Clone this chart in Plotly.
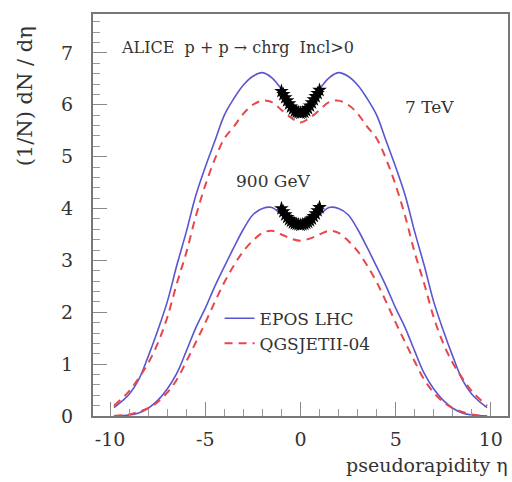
import plotly.graph_objects as go

# pseudorapidity grid for model curves
eta = [-9.8, -9.0, -8.5, -8.0, -7.5, -7.0, -6.5, -6.0, -5.5, -5.0, -4.5, -4.0, -3.5, -3.0, -2.5, -2.0, -1.5, -1.0, -0.5, 0.0,
       0.5, 1.0, 1.5, 2.0, 2.5, 3.0, 3.5, 4.0, 4.5, 5.0, 5.5, 6.0, 6.5, 7.0, 7.5, 8.0, 8.5, 9.0, 9.8]

epos_7tev = [0.16, 0.42, 0.70, 1.15, 1.65, 2.20, 2.90, 3.55, 4.25, 4.80, 5.30, 5.80, 6.12, 6.38, 6.55, 6.62, 6.52, 6.30, 6.02, 5.88,
             6.02, 6.30, 6.52, 6.62, 6.55, 6.38, 6.12, 5.80, 5.30, 4.80, 4.25, 3.55, 2.90, 2.20, 1.65, 1.15, 0.70, 0.42, 0.16]
qgs_7tev = [0.20, 0.48, 0.73, 1.02, 1.40, 1.90, 2.55, 3.15, 3.85, 4.45, 4.95, 5.35, 5.58, 5.83, 6.00, 6.08, 6.05, 5.90, 5.75, 5.66,
            5.75, 5.90, 6.05, 6.08, 6.00, 5.83, 5.58, 5.35, 4.95, 4.45, 3.85, 3.15, 2.55, 1.90, 1.40, 1.02, 0.73, 0.48, 0.20]
epos_900 = [0.00, 0.02, 0.06, 0.15, 0.30, 0.52, 0.82, 1.25, 1.70, 2.08, 2.50, 2.88, 3.25, 3.60, 3.88, 4.00, 4.02, 3.88, 3.76, 3.70,
            3.76, 3.88, 4.02, 4.00, 3.88, 3.60, 3.25, 2.88, 2.50, 2.08, 1.70, 1.25, 0.82, 0.52, 0.30, 0.15, 0.06, 0.02, 0.00]
qgs_900 = [0.00, 0.03, 0.08, 0.15, 0.27, 0.45, 0.70, 1.05, 1.42, 1.80, 2.20, 2.58, 2.90, 3.18, 3.38, 3.53, 3.57, 3.50, 3.42, 3.38,
           3.42, 3.50, 3.57, 3.53, 3.38, 3.18, 2.90, 2.58, 2.20, 1.80, 1.42, 1.05, 0.70, 0.45, 0.27, 0.15, 0.08, 0.03, 0.00]

# ALICE data points
eta_data = [-1.0, -0.9, -0.8, -0.7, -0.6, -0.5, -0.4, -0.3, -0.2, -0.1, 0.0, 0.1, 0.2, 0.3, 0.4, 0.5, 0.6, 0.7, 0.8, 0.9, 1.0]
alice_7tev = [6.26, 6.20, 6.14, 6.08, 6.02, 5.96, 5.92, 5.88, 5.86, 5.85, 5.84, 5.85, 5.86, 5.89, 5.93, 5.98, 6.04, 6.10, 6.16, 6.22, 6.28]
alice_900 = [4.00, 3.94, 3.88, 3.83, 3.79, 3.76, 3.73, 3.71, 3.70, 3.69, 3.68, 3.69, 3.70, 3.72, 3.74, 3.77, 3.80, 3.85, 3.90, 3.96, 4.02]

blue = "#5a55d0"
red = "#e8464a"
serif = "DejaVu Serif, Liberation Serif, Times New Roman, serif"
txt = "#333333"

fig = go.Figure()
fig.add_trace(go.Scatter(x=eta, y=epos_7tev, mode="lines", line=dict(color=blue, width=1.6, shape="spline"),
                         name="EPOS LHC"))
fig.add_trace(go.Scatter(x=eta, y=qgs_7tev, mode="lines", line=dict(color=red, width=2, dash="8px,6px", shape="spline"),
                         name="QGSJETII-04"))
fig.add_trace(go.Scatter(x=eta, y=epos_900, mode="lines", line=dict(color=blue, width=1.6, shape="spline"),
                         showlegend=False))
fig.add_trace(go.Scatter(x=eta, y=qgs_900, mode="lines", line=dict(color=red, width=2, dash="8px,6px", shape="spline"),
                         showlegend=False))
fig.add_trace(go.Scatter(x=eta_data, y=alice_7tev, mode="markers",
                         marker=dict(symbol="star", size=11, color="black"), showlegend=False))
fig.add_trace(go.Scatter(x=eta_data, y=alice_900, mode="markers",
                         marker=dict(symbol="star", size=11, color="black"), showlegend=False))

axis_common = dict(showgrid=False, zeroline=False, showline=True, linecolor="#777777", linewidth=2, mirror=True,
                   ticks="inside", ticklen=14, tickcolor="#888888", tickwidth=1,
                   tickfont=dict(family=serif, size=19, color=txt))

fig.update_xaxes(range=[-10.9, 10.9], tickvals=[-10, -5, 0, 5, 10], ticktext=["-10", "-5", "0", "5", "10"],
                 minor=dict(dtick=1, tick0=0, ticks="inside", ticklen=7, tickcolor="#999999"),
                 ticklabelstandoff=5, **axis_common)
fig.update_yaxes(range=[0, 7.75], tickvals=[0, 1, 2, 3, 4, 5, 6, 7],
                 minor=dict(dtick=0.2, tick0=0, ticks="inside", ticklen=7, tickcolor="#999999"),
                 ticklabelstandoff=14, **axis_common)

fig.add_annotation(text="ALICE  p + p → chrg  Incl>0", x=-9.55, y=7.1, xref="x", yref="y", xanchor="left",
                   showarrow=False, font=dict(family=serif, size=16, color=txt))
fig.add_annotation(text="7 TeV", x=6.8, y=5.95, xref="x", yref="y", showarrow=False,
                   font=dict(family=serif, size=17, color=txt))
fig.add_annotation(text="900 GeV", x=-1.45, y=4.53, xref="x", yref="y", showarrow=False,
                   font=dict(family=serif, size=17, color=txt))
fig.add_annotation(text="(1/N) dN / dη", x=-0.163, y=0.796, xref="paper", yref="paper", textangle=-90,
                   xanchor="center", yanchor="middle",
                   showarrow=False, font=dict(family=serif, size=21, color=txt))
fig.add_annotation(text="pseudorapidity η", x=1.005, y=-0.09, xref="paper", yref="paper", xanchor="right",
                   yanchor="top", showarrow=False, font=dict(family=serif, size=19, color=txt))

fig.update_layout(
    width=512, height=482,
    margin=dict(l=93, r=2, t=14, b=66),
    plot_bgcolor="white", paper_bgcolor="white",
    legend=dict(x=0.305, y=0.287, xanchor="left", yanchor="top", bgcolor="rgba(0,0,0,0)",
                font=dict(family=serif, size=17, color=txt), tracegroupgap=0, itemwidth=30),
)

fig.write_html("out.html")
